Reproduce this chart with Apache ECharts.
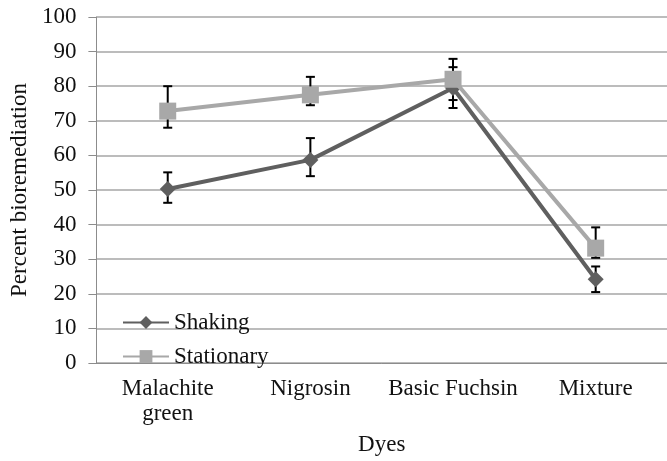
<!DOCTYPE html>
<html>
<head>
<meta charset="utf-8">
<script src="https://cdn.jsdelivr.net/npm/echarts@6/dist/echarts.min.js"></script>
<style>html,body{margin:0;padding:0;background:#fff}#c{width:667px;height:461px}</style>
</head>
<body>
<div id="c"></div>
<script>
var categories = ['Malachite\ngreen', 'Nigrosin', 'Basic Fuchsin', 'Mixture'];
var shaking = [50.3, 58.7, 79.5, 24.2];
var shakingLow = [46.3, 54.0, 73.7, 20.5];
var shakingHigh = [55.1, 65.0, 85.5, 27.9];
var stationary = [72.8, 77.5, 82.0, 33.2];
var stationaryLow = [68.0, 74.5, 76.0, 30.4];
var stationaryHigh = [80.0, 82.7, 87.9, 39.2];
var yTicks = [0, 10, 20, 30, 40, 50, 60, 70, 80, 90, 100];

var font = '"Liberation Serif", "Times New Roman", serif';
var fs = 23;

function errData(lo, hi) {
  return lo.map(function (l, i) { return [i, l, hi[i]]; });
}
function errRender(params, api) {
  var x = api.value(0);
  var p1 = api.coord([x, api.value(1)]);
  var p2 = api.coord([x, api.value(2)]);
  var hw = 4.5;
  var st = { stroke: '#000', lineWidth: 2 };
  return {
    type: 'group',
    children: [
      { type: 'line', shape: { x1: p1[0], y1: p1[1], x2: p2[0], y2: p2[1] }, style: st },
      { type: 'line', shape: { x1: p1[0] - hw, y1: p1[1], x2: p1[0] + hw, y2: p1[1] }, style: st },
      { type: 'line', shape: { x1: p2[0] - hw, y1: p2[1], x2: p2[0] + hw, y2: p2[1] }, style: st }
    ]
  };
}

var chart = echarts.init(document.getElementById('c'), null, { renderer: 'canvas' });
chart.setOption({
  animation: false,
  backgroundColor: '#fff',
  grid: { left: 96, top: 17, width: 580, height: 354, containLabel: false },
  legend: {
    orient: 'vertical',
    left: 117,
    top: 306,
    itemWidth: 46,
    itemHeight: 16,
    itemGap: 11,
    textStyle: { fontFamily: font, fontSize: fs, color: '#111' },
    data: ['Shaking', 'Stationary']
  },
  xAxis: {
    type: 'category',
    data: categories,
    boundaryGap: true,
    name: 'Dyes',
    nameLocation: 'middle',
    nameGap: 70,
    nameTextStyle: { fontFamily: font, fontSize: fs, color: '#111' },
    axisLine: { lineStyle: { color: '#8c8c8c', width: 1 } },
    axisTick: { length: 5, lineStyle: { color: '#8c8c8c' } },
    axisLabel: { fontFamily: font, fontSize: fs, color: '#111', margin: 13, lineHeight: 25, interval: 0 }
  },
  yAxis: {
    type: 'value',
    min: 0, max: 100, interval: 10,
    name: 'Percent bioremediation',
    nameLocation: 'middle',
    nameGap: 63,
    nameTextStyle: { fontFamily: font, fontSize: fs, color: '#111' },
    axisLine: { show: true, lineStyle: { color: '#8c8c8c', width: 1 } },
    axisTick: { show: true, length: 8, lineStyle: { color: '#8c8c8c' } },
    axisLabel: { fontFamily: font, fontSize: fs, color: '#111', margin: 20,
      formatter: function (v) { return yTicks.indexOf(v) >= 0 ? String(v) : ''; } },
    splitLine: { lineStyle: { color: '#bcbcbc', width: 2 } }
  },
  series: [
    {
      type: 'custom', name: 'errShaking', renderItem: errRender,
      data: errData(shakingLow, shakingHigh), z: 1, silent: true
    },
    {
      type: 'custom', name: 'errStationary', renderItem: errRender,
      data: errData(stationaryLow, stationaryHigh), z: 1, silent: true
    },
    {
      type: 'line', name: 'Shaking', data: shaking, z: 3,
      symbol: 'diamond', symbolSize: 16,
      lineStyle: { color: '#5f5f5f', width: 4 },
      itemStyle: { color: '#5f5f5f' }
    },
    {
      type: 'line', name: 'Stationary', data: stationary, z: 4,
      symbol: 'rect', symbolSize: 17,
      lineStyle: { color: '#a8a8a8', width: 4 },
      itemStyle: { color: '#a8a8a8' }
    }
  ]
});
</script>
</body>
</html>
